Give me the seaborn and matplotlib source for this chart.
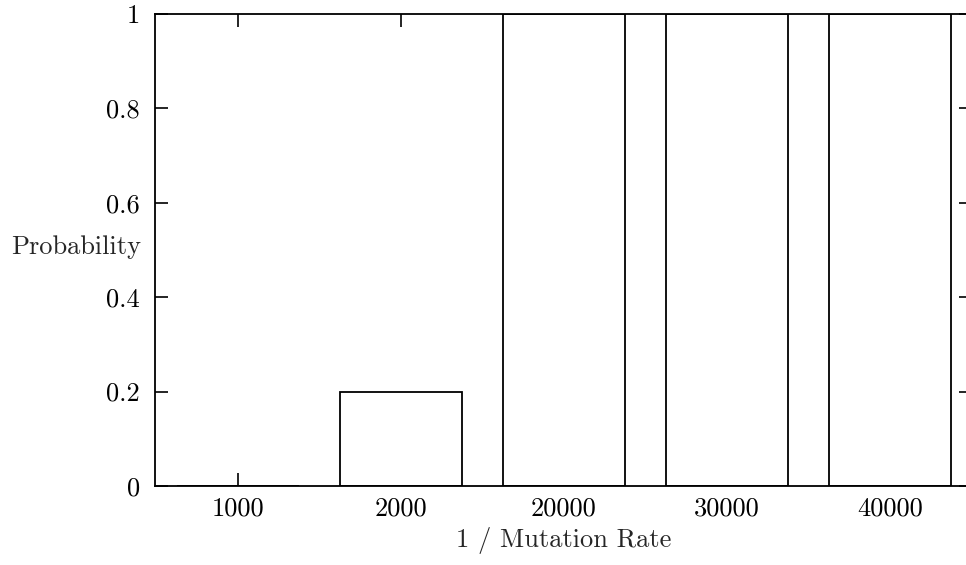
import matplotlib
matplotlib.use("Agg")
import matplotlib.pyplot as plt
import seaborn as sns
import pandas as pd

# chart values
rates = ['1000', '2000', '20000', '30000', '40000']
probs = [0.0, 0.2, 1.0, 1.0, 1.0]
yticks = [0, 0.2, 0.4, 0.6, 0.8, 1.0]
ytick_labels = ['0', '0.2', '0.4', '0.6', '0.8', '1']

df = pd.DataFrame({'rate': rates, 'prob': probs})

sns.set_style("ticks")
plt.rcParams['font.family'] = ['cmr10', 'DejaVu Serif']
plt.rcParams['axes.formatter.use_mathtext'] = True

fig = plt.figure(figsize=(9.66, 5.65), dpi=100)
# plot area (right border sits just past the image edge, as in the reference)
ax = fig.add_axes([155 / 966, 79 / 565, 817 / 966, 472 / 565])

sns.barplot(data=df, x='rate', y='prob', order=rates, color='white',
            saturation=1, edgecolor='black', linewidth=1.3, width=0.75,
            errorbar=None, ax=ax)

ax.set_xlim(-0.509, 4.503)
ax.set_ylim(0, 1)
ax.set_yticks(yticks)
ax.set_yticklabels(ytick_labels)

for side in ['top', 'right', 'left', 'bottom']:
    ax.spines[side].set_visible(True)
    ax.spines[side].set_linewidth(1.3)
    ax.spines[side].set_color('black')

fs = 19
ax.tick_params(axis='both', which='both', direction='in', length=9.5,
               width=1.2, color='black', labelsize=fs, labelcolor='black',
               top=True, right=True)
ax.tick_params(axis='x', pad=8)
ax.tick_params(axis='y', pad=11)

ax.set_xlabel('1 / Mutation Rate', fontsize=fs, va='center')
ax.xaxis.set_label_coords(0.5, -0.1165)
ax.set_ylabel('Probability', fontsize=fs, rotation=0, ha='center', va='center')
ax.yaxis.set_label_coords(-0.096, 0.506)

fig.savefig('out.png', dpi=100)
